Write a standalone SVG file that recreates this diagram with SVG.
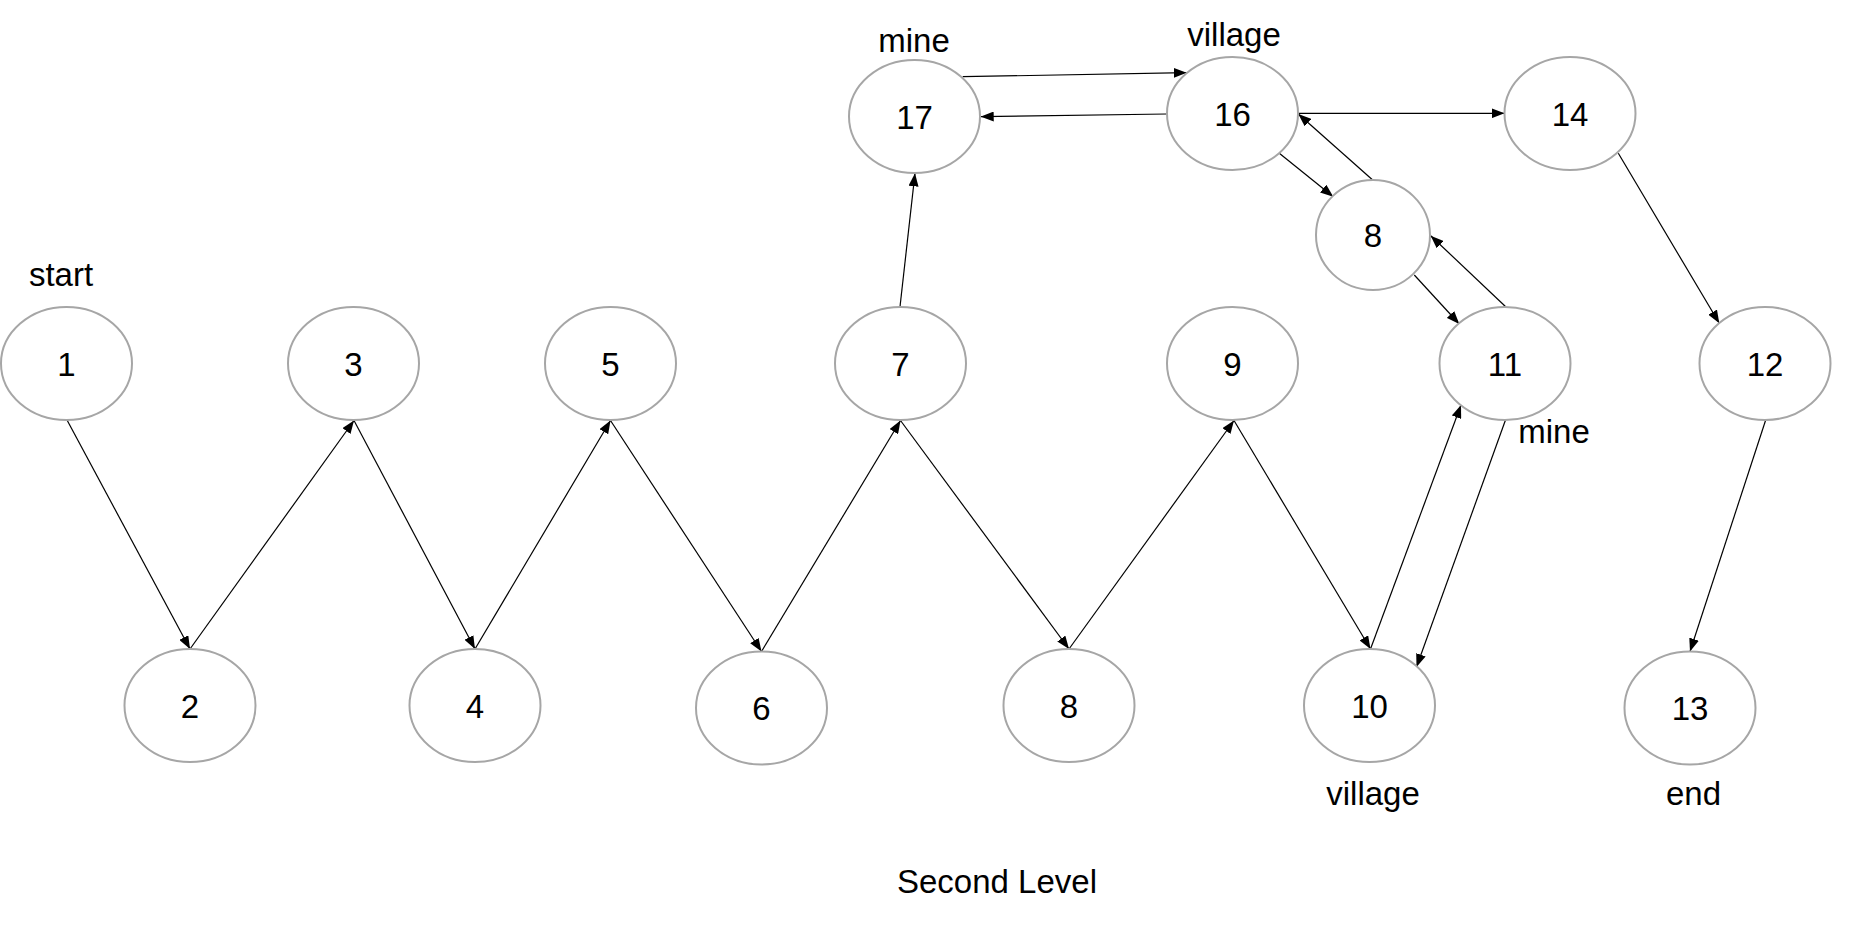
<svg xmlns="http://www.w3.org/2000/svg" width="1853" height="927" viewBox="0 0 1853 927">
<style>
.n ellipse{fill:#fff;stroke:#a6a6a6;stroke-width:2}
text{font-family:"Liberation Sans",Arial,sans-serif;font-size:33px;fill:#000;text-anchor:middle}
.e line{stroke:#000;stroke-width:1.2;marker-end:url(#ah)}
</style>
<defs>
<marker id="ah" markerUnits="userSpaceOnUse" markerWidth="13" markerHeight="10" refX="13" refY="5" orient="auto">
<path d="M0,0 L13,5 L0,10 z" fill="#000"/>
</marker>
</defs>
<rect width="1853" height="927" fill="#fff"/>
<g class="e" id="connectors">
<line x1="67" y1="420" x2="190" y2="649"/>
<line x1="190" y1="649" x2="354" y2="420.5"/>
<line x1="354" y1="420.5" x2="475" y2="649"/>
<line x1="475" y1="649" x2="610.5" y2="420.5"/>
<line x1="610.5" y1="420.5" x2="761.5" y2="651.5"/>
<line x1="761.5" y1="651.5" x2="900.5" y2="420.5"/>
<line x1="900.5" y1="420.5" x2="1069" y2="649"/>
<line x1="1069" y1="649" x2="1234" y2="420.5"/>
<line x1="1234" y1="420.5" x2="1370.5" y2="649"/>
<line x1="1370.5" y1="649" x2="1461" y2="405"/>
<line x1="1505.5" y1="420" x2="1416.5" y2="667"/>
<line x1="900" y1="306.7" x2="915" y2="173.3"/>
<line x1="962.7" y1="76.7" x2="1186.7" y2="72.7"/>
<line x1="1166.7" y1="114" x2="980.7" y2="116.7"/>
<line x1="1298.3" y1="113.3" x2="1504.5" y2="113.3"/>
<line x1="1279.3" y1="153.3" x2="1333.3" y2="196.7"/>
<line x1="1372.7" y1="180" x2="1298.3" y2="114"/>
<line x1="1414.3" y1="275" x2="1459.3" y2="324"/>
<line x1="1505.7" y1="306.7" x2="1430.7" y2="235.7"/>
<line x1="1618.3" y1="153.3" x2="1719.3" y2="323.3"/>
<line x1="1765.7" y1="420" x2="1690" y2="651.5"/>
</g>
<g class="n" id="node1"><ellipse cx="66.5" cy="363.5" rx="65.5" ry="56.5"/><text x="66.5" y="376">1</text></g>
<g class="n" id="node2"><ellipse cx="190" cy="705.5" rx="65.5" ry="56.5"/><text x="190" y="718">2</text></g>
<g class="n" id="node3"><ellipse cx="353.5" cy="363.5" rx="65.5" ry="56.5"/><text x="353.5" y="376">3</text></g>
<g class="n" id="node4"><ellipse cx="475" cy="705.5" rx="65.5" ry="56.5"/><text x="475" y="718">4</text></g>
<g class="n" id="node5"><ellipse cx="610.5" cy="363.5" rx="65.5" ry="56.5"/><text x="610.5" y="376">5</text></g>
<g class="n" id="node6"><ellipse cx="761.5" cy="708" rx="65.5" ry="56.5"/><text x="761.5" y="720">6</text></g>
<g class="n" id="node7"><ellipse cx="900.5" cy="363.5" rx="65.5" ry="56.5"/><text x="900.5" y="376">7</text></g>
<g class="n" id="node8"><ellipse cx="1069" cy="705.5" rx="65.5" ry="56.5"/><text x="1069" y="718">8</text></g>
<g class="n" id="node9"><ellipse cx="1232.5" cy="363.5" rx="65.5" ry="56.5"/><text x="1232.5" y="376">9</text></g>
<g class="n" id="node10"><ellipse cx="1369.5" cy="705.5" rx="65.5" ry="56.5"/><text x="1369.5" y="718">10</text></g>
<g class="n" id="node11"><ellipse cx="1505" cy="363.5" rx="65.5" ry="56.5"/><text x="1505" y="376">11</text></g>
<g class="n" id="node12"><ellipse cx="1765" cy="363.5" rx="65.5" ry="56.5"/><text x="1765" y="376">12</text></g>
<g class="n" id="node13"><ellipse cx="1690" cy="708" rx="65.5" ry="56.5"/><text x="1690" y="720">13</text></g>
<g class="n" id="node14"><ellipse cx="1570" cy="113.5" rx="65.5" ry="56.5"/><text x="1570" y="126">14</text></g>
<g class="n" id="node16"><ellipse cx="1232.5" cy="113.5" rx="65.5" ry="56.5"/><text x="1232.5" y="126">16</text></g>
<g class="n" id="node17"><ellipse cx="914.5" cy="116.5" rx="65.5" ry="56.5"/><text x="914.5" y="129">17</text></g>
<g class="n" id="node8b"><ellipse cx="1373" cy="235" rx="57" ry="55"/><text x="1373" y="247">8</text></g>
<g id="labels">
<text x="61" y="286">start</text>
<text x="914" y="52">mine</text>
<text x="1234" y="46">village</text>
<text x="1554" y="443">mine</text>
<text x="1373" y="805">village</text>
<text x="1693.5" y="805">end</text>
<text x="997" y="893">Second Level</text>
</g>
</svg>
